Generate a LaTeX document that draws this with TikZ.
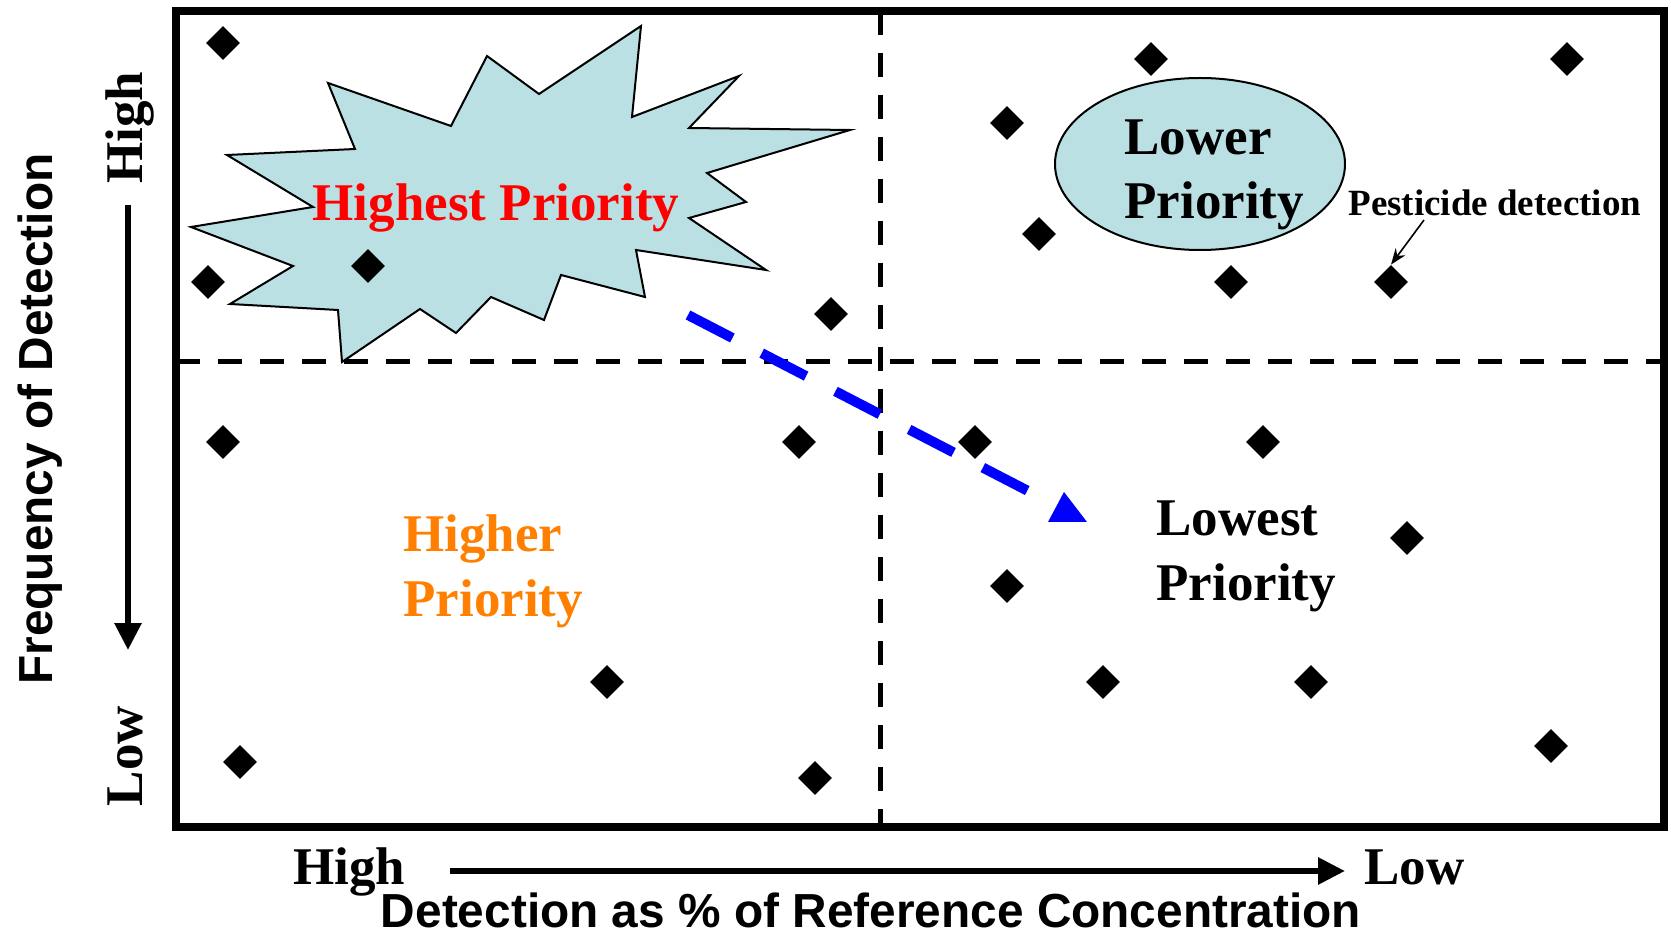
\documentclass[tikz,border=0pt]{standalone}
\usepackage{fontspec}
\setmainfont{Liberation Serif}
\setsansfont{Liberation Sans}
\usetikzlibrary{shapes.geometric,arrows.meta}
\definecolor{burst}{RGB}{186,224,228}
\definecolor{orng}{RGB}{255,128,0}
\begin{document}
\begin{tikzpicture}[x=0.5pt,y=-0.5pt,
  frame/.style={line width=4pt},
  divider/.style={line width=2.5pt, dash pattern=on 12pt off 9pt},
  marker/.style={diamond, fill=black, draw=none, inner sep=0pt, minimum width=17pt, minimum height=17pt},
  big/.style={font=\fontsize{26.5}{30}\selectfont\bfseries, inner sep=0pt},
  small/.style={font=\fontsize{18.5}{22}\selectfont\bfseries, inner sep=0pt},
  axislab/.style={font=\fontsize{23.9}{28}\selectfont\sffamily\bfseries, inner sep=0pt},
  axisarrow/.style={line width=3pt, -{Triangle[length=13.5pt,width=13pt]}},
  trend/.style={blue, line width=5pt, dash pattern=on 25pt off 16.5pt},
  pointer/.style={line width=0.8pt, -{Stealth[length=8pt,width=6pt]}}
]
\useasboundingbox (0,0) rectangle (1671,935);

% starburst
\draw[line width=1pt, fill=burst, line join=miter]
  (328,83) -- (451,126) -- (487,56) -- (539,94) -- (641,26) -- (632,117)
  -- (739,76) -- (689,128) -- (850,130) -- (707,173) -- (746,202) -- (689,218)
  -- (766,270) -- (636,250) -- (645,297) -- (561,275) -- (544,320) -- (491,297)
  -- (456,333) -- (420,309) -- (342,362) -- (338,310) -- (230,304) -- (293,266)
  -- (191,227) -- (313,207) -- (227,155) -- (355,149) -- cycle;

% ellipse
\node[ellipse, draw, line width=1pt, fill=burst, minimum width=145pt, minimum height=86pt] (lowerell) at (1200,164) {};

% dividers
\coordinate (hl) at (176,362);
\coordinate (hr) at (1664,362);
\coordinate (vt) at (880,11);
\coordinate (vb) at (880,827);
\draw[divider] (hl) -- (hr);
\draw[divider] (vt) -- (vb);

% frame
\draw[frame] (176,11) rectangle (1664,827);

% markers
\node[marker] (d1) at (223,43) {};
\node[marker] (d2) at (208,282) {};
\node[marker] (d3) at (368,266) {};
\node[marker] (d4) at (831,314) {};
\node[marker] (d5) at (1151,59) {};
\node[marker] (d6) at (1567,59) {};
\node[marker] (d7) at (1007,123) {};
\node[marker] (d8) at (1039,234) {};
\node[marker] (d9) at (1231,282) {};
\node[marker] (d10) at (1391,282) {};
\node[marker] (d11) at (223,442) {};
\node[marker] (d12) at (799,442) {};
\node[marker] (d13) at (975,442) {};
\node[marker] (d14) at (1263,442) {};
\node[marker] (d15) at (1407,538) {};
\node[marker] (d16) at (1007,586) {};
\node[marker] (d17) at (607,682) {};
\node[marker] (d18) at (1103,682) {};
\node[marker] (d19) at (1311,682) {};
\node[marker] (d20) at (240,762) {};
\node[marker] (d21) at (815,778) {};
\node[marker] (d22) at (1551,746) {};

% trend arrow
\coordinate (ts) at (688,315);
\coordinate (te) at (1030,492);
\draw[trend] (ts) -- (te);
\fill[blue] (1048,522) -- (1087,522) -- (1064,492) -- cycle;

% quadrant labels
\node[big, red, anchor=base] (highest) at (496,221) {Highest Priority};
\node[big, anchor=base west] (lower1) at (1124,155) {Lower};
\node[big, anchor=base west] (lower2) at (1124,219) {Priority};
\node[big, orng, anchor=base west] (higher1) at (403,552) {Higher};
\node[big, orng, anchor=base west] (higher2) at (403,616) {Priority};
\node[big, anchor=base west] (lowest1) at (1156,536) {Lowest};
\node[big, anchor=base west] (lowest2) at (1156,600) {Priority};

% pesticide label
\node[small, anchor=base west] (pest) at (1348,216) {Pesticide detection};
\coordinate (pa) at (1424,220);
\draw[pointer] (pa) -- (d10.north);

% axes
\coordinate (va) at (128,205);
\coordinate (vz) at (128,650);
\draw[axisarrow] (va) -- (vz);
\coordinate (ha) at (450,871);
\coordinate (hz) at (1345,871);
\draw[axisarrow] (ha) -- (hz);

\node[big, rotate=90, anchor=base] (vhigh) at (142,128) {High};
\node[big, rotate=90, anchor=base] (vlow) at (142,756) {Low};
\node[axislab, rotate=90, anchor=base] (vtitle) at (53,419) {Frequency of Detection};

\node[big, anchor=base west] (hhigh) at (293,884) {High};
\node[big, anchor=base west] (hlow) at (1364,884) {Low};
\node[axislab, anchor=base] (htitle) at (871,927) {Detection as \% of Reference Concentration};
\end{tikzpicture}
\end{document}
